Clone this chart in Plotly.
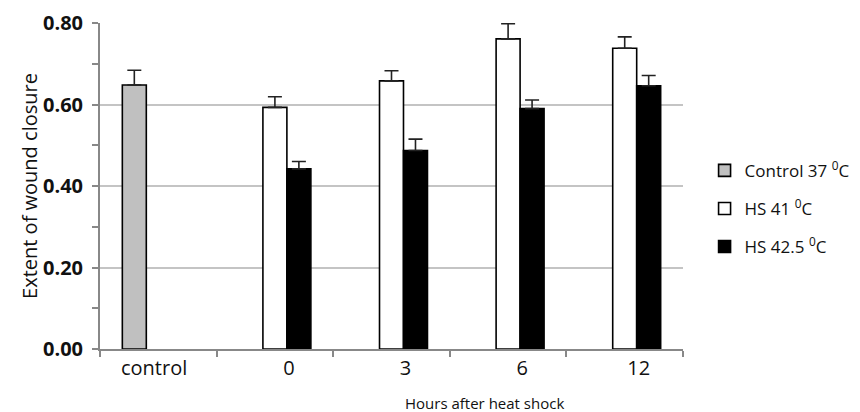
import plotly.graph_objects as go

categories = ["control", "0", "3", "6", "12"]
tick_labels = ["control" + "\u00a0" * 7, "0", "3", "6", "12"]
y_ticks = [0.0, 0.2, 0.4, 0.6, 0.8]
y_tick_labels = ["0.00", "0.20", "0.40", "0.60", "0.80"]

control_vals = [0.648, None, None, None, None]
control_err = [0.036, 0, 0, 0, 0]
hs41_vals = [None, 0.593, 0.658, 0.761, 0.738]
hs41_err = [0, 0.026, 0.025, 0.037, 0.028]
hs425_vals = [None, 0.442, 0.487, 0.590, 0.646]
hs425_err = [0, 0.018, 0.028, 0.021, 0.025]

series = [
    ("Control 37 <sup>0</sup>C", control_vals, control_err, "#c0c0c0"),
    ("HS 41 <sup>0</sup>C", hs41_vals, hs41_err, "#ffffff"),
    ("HS 42.5 <sup>0</sup>C", hs425_vals, hs425_err, "#000000"),
]

FONT = "Open Sans"
fig = go.Figure()
for i, (name, vals, err, col) in enumerate(series):
    fig.add_trace(go.Bar(
        name=name, x=categories, y=vals,
        marker=dict(color=col, line=dict(color="#000000", width=1.6)),
        error_y=dict(type="data", symmetric=False, array=err,
                     arrayminus=[0] * len(err), color="#222222",
                     thickness=1.6, width=7),
        legendgroup=str(i),
        cliponaxis=False,
    ))

# page body has an 8px margin, so the figure is 8px smaller and shifted
fig.update_layout(
    width=852, height=404,
    margin=dict(l=92, r=177, t=15, b=63, autoexpand=False),
    paper_bgcolor="white", plot_bgcolor="white",
    barmode="group", bargap=0.383, bargroupgap=0,
    font=dict(family=FONT, color="#111111"),
    showlegend=True,
    legend=dict(x=1.037, xanchor="left", y=0.43, yanchor="middle",
                traceorder="grouped", tracegroupgap=13,
                font=dict(size=17, family=FONT, color="#111111"),
                bgcolor="rgba(0,0,0,0)"),
    xaxis=dict(
        type="category", tickson="boundaries", automargin=False,
        tickmode="array", tickvals=categories, ticktext=tick_labels,
        ticks="outside", ticklen=6, tickcolor="#888888", tickwidth=1.5,
        showline=True, linecolor="#888888", linewidth=1.5,
        showgrid=False, ticklabelshift=14,
        tickfont=dict(size=20, family=FONT, color="#111111"),
    ),
    yaxis=dict(
        range=[0, 0.8], tickmode="array", tickvals=y_ticks,
        ticktext=[t + "\u00a0" for t in y_tick_labels], automargin=False,
        ticks="outside", ticklen=6, tickcolor="#888888", tickwidth=1.5,
        showline=True, linecolor="#888888", linewidth=1.5,
        showgrid=True, gridcolor="#c4c4c4", gridwidth=1.5,
        zeroline=False,
        minor=dict(ticks="outside", ticklen=6, tickcolor="#888888",
                   tickwidth=1.5, dtick=0.1, tick0=0, showgrid=False),
        tickfont=dict(size=20, family=FONT, color="#111111", weight="bold"),
        title=dict(text="Extent of wound closure", standoff=0,
                   font=dict(size=20, family=FONT, color="#111111")),
    ),
    annotations=[dict(
        text="Hours after heat shock", xref="paper", yref="paper",
        x=(484 - 100) / 583, y=-0.166, xanchor="center", yanchor="middle",
        showarrow=False, font=dict(size=15, family=FONT, color="#111111"),
    )],
)

fig.write_html("out.html")
